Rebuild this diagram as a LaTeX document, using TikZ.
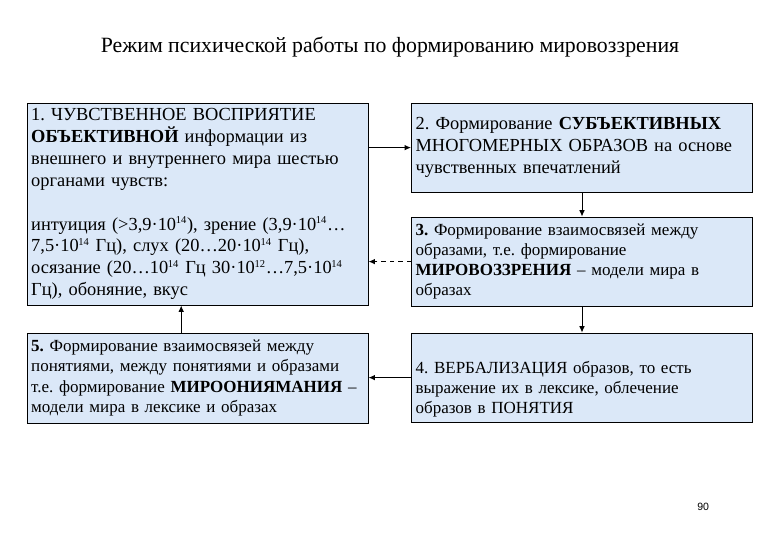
\documentclass[tikz,border=0pt]{standalone}
\usepackage{fontspec}
\setmainfont{Liberation Serif}
\newfontfamily\numfont{Liberation Sans}
\usepackage{xcolor}
\usepackage{tikz}
\usetikzlibrary{arrows.meta,positioning}
\definecolor{boxfill}{HTML}{DBE8F8}
\newcommand{\pw}[1]{\textsuperscript{\kern-0.3pt\fontsize{7.5}{8}\selectfont#1}}
\frenchspacing

\begin{document}
\begin{tikzpicture}[
  blk/.style={draw=black,fill=boxfill,line width=0.7pt,minimum width=8.525cm,
    text width=8.32cm,align=left,inner sep=0pt},
  bigtxt/.style={font=\fontsize{13.1}{15.6}\selectfont},
  smalltxt/.style={font=\fontsize{12.1}{14.3}\selectfont},
  arr/.style={-{Latex[length=1.6mm,width=1.4mm]},line width=0.7pt}
]
\useasboundingbox (0,0) rectangle (19.5,-13.5);
\node[font=\fontsize{15.5}{18}\selectfont] (title) at (9.75,-1.18)
  {Режим психической работы по формированию мировоззрения};
\node[blk,bigtxt,minimum height=5.05cm] (perc) at (4.94,-5.1)
  {1. ЧУВСТВЕННОЕ ВОСПРИЯТИЕ\\
   \textbf{ОБЪЕКТИВНОЙ} информации из\\
   внешнего и внутреннего мира шестью\\
   органами чувств:\\[15.6pt]
   интуиция (>3,9·10\pw{14}), зрение (3,9·10\pw{14}…\\
   7,5·10\pw{14} Гц), слух (20…20·10\pw{14} Гц),\\
   осязание (20…10\pw{14} Гц 30·10\pw{12}…7,5·10\pw{14}\\
   Гц), обоняние, вкус};
\node[blk,bigtxt,minimum height=2.225cm] (subj) at (14.55,-3.69)
  {2. Формирование \textbf{СУБЪЕКТИВНЫХ}\\
   МНОГОМЕРНЫХ ОБРАЗОВ на основе\\
   чувственных впечатлений};
\node[blk,smalltxt,minimum height=2.225cm] (world) at (14.55,-6.54)
  {\textbf{3.} Формирование взаимосвязей между\\
   образами, т.е. формирование\\
   \textbf{МИРОВОЗЗРЕНИЯ} – модели мира в\\
   образах};
\node[blk,smalltxt,minimum height=2.225cm] (verb) at (14.55,-9.44)
  {\rule{0pt}{0.9cm}4. ВЕРБАЛИЗАЦИЯ образов, то есть\\
   выражение их в лексике, облечение\\
   образов в ПОНЯТИЯ};
\node[blk,smalltxt,minimum height=2.25cm] (concept) at (4.94,-9.45)
  {\textbf{5.} Формирование взаимосвязей между\\
   понятиями, между понятиями и образами\\
   т.е. формирование \textbf{МИРООНИЯМАНИЯ}~–\\
   модели мира в лексике и образах};
\node[font=\numfont\fontsize{7.5}{9}\selectfont] (page) at (17.58,-12.68) {90};
% connectors
\draw[arr] (perc.east |- subj.west) -- (subj.west);
\draw[arr] (subj.south) -- (world.north);
\draw[arr,dashed] (world.west) -- (perc.east |- world.west);
\draw[arr] (world.south) -- (verb.north);
\draw[arr] (verb.west) -- (concept.east |- verb.west);
\coordinate (up) at ([xshift=-0.41cm]concept.north);
\draw[arr] (up) -- (up |- perc.south);
\end{tikzpicture}
\end{document}
